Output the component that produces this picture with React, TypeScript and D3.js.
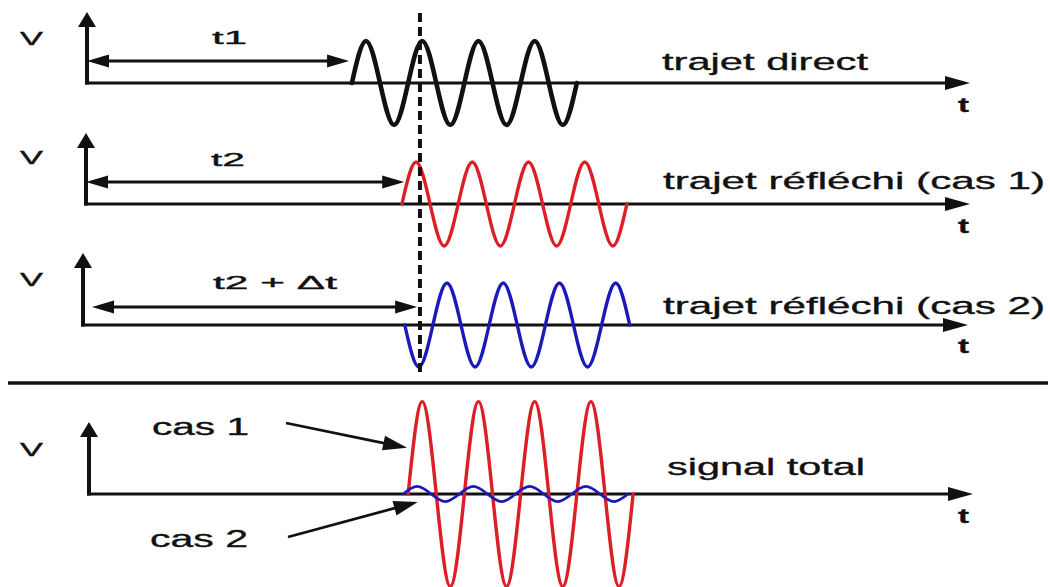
import React from "react";
import * as d3 from "d3";

const W = 1050;
const H = 587;

// Time is measured in carrier periods; one sample every quarter period.
const T_AXIS_END = 15.7;
const QUARTER = 0.25;
const T1 = 4.66;
const T2 = 5.64;
const DELTA_T = 0.23;
const T_MARKER = 5.92;

// Wave levels (in units of the single-path amplitude), one per quarter period.
const directOnset = 4.71;
const directLevels = [0, 1, 0, -1, 0, 1, 0, -1, 0, 1, 0, -1, 0, 1, 0, -1, 0];

const reflected1Onset = 5.6;
const reflected1Levels = [0, 1, 0, -1, 0, 1, 0, -1, 0, 1, 0, -1, 0, 1, 0, -1, 0];

const reflected2Onset = 5.65;
const reflected2Levels = [0, -1, 0, 1, 0, -1, 0, 1, 0, -1, 0, 1, 0, -1, 0, 1, 0];

const total1Onset = 5.71;
const total1Levels = [0, 2.2, 0, -2.2, 0, 2.2, 0, -2.2, 0, 2.2, 0, -2.2, 0, 2.2, 0, -2.2, 0];

const total2Onset = 5.62;
const total2Levels = [0, 0.18, 0, -0.18, 0, 0.18, 0, -0.18, 0, 0.18, 0, -0.18, 0, 0.18, 0, -0.18, 0];

// Annotation arrow targets in the "signal total" panel: [time, level]
const cas1Target: [number, number] = [5.69, 1.1];
const cas2Target: [number, number] = [5.88, -0.19];

const rightLabels = ["trajet direct", "trajet réfléchi (cas 1)", "trajet réfléchi (cas 2)", "signal total"];
const delayLabels = ["t1", "t2", "t2 + \u0394t"];

const FONT = "'Liberation Sans', Arial, Helvetica, sans-serif";
const INK = "#111";
const RED = "#dc1f26";
const BLUE = "#1a1ab8";

const AMP_PX = 42;

const x = d3.scaleLinear().domain([0, T_AXIS_END]).range([87, 970]);

type Panel = { axisX: number; axisY: number; topY: number; vY: number; tY: number; axisEnd: number };
const panels: Panel[] = [
  { axisX: 87, axisY: 83, topY: 12, vY: 45, tY: 112, axisEnd: 970 },
  { axisX: 86, axisY: 204, topY: 133, vY: 164, tY: 233, axisEnd: 970 },
  { axisX: 83, axisY: 325, topY: 253, vY: 286, tY: 353, axisEnd: 968 },
  { axisX: 89, axisY: 494, topY: 422, vY: 456, tY: 523, axisEnd: 973 },
];

const yFor = (p: Panel) =>
  d3.scaleLinear().domain([-1, 1]).range([p.axisY + AMP_PX, p.axisY - AMP_PX]);

function wavePath(p: Panel, onset: number, levels: number[]) {
  const y = yFor(p);
  const pts: [number, number][] = levels.map((v, i) => [onset + i * QUARTER, v]);
  return (
    d3
      .line<[number, number]>()
      .x((d) => x(d[0]))
      .y((d) => y(d[1]))
      .curve(d3.curveNatural)(pts) || ""
  );
}

// Filled triangular arrow head with its tip at (tx, ty), pointing along (dx, dy).
function head(tx: number, ty: number, dx: number, dy: number, len: number, half: number) {
  const n = Math.hypot(dx, dy);
  const ux = dx / n;
  const uy = dy / n;
  const bx = tx - ux * len;
  const by = ty - uy * len;
  const px = -uy * half;
  const py = ux * half;
  return `M${tx},${ty}L${bx + px},${by + py}L${bx - px},${by - py}Z`;
}

function Axes({ p }: { p: Panel }) {
  return (
    <g>
      <line x1={p.axisX} y1={p.axisY + 1.5} x2={p.axisX} y2={p.topY + 12} stroke={INK} strokeWidth={4} />
      <path d={head(p.axisX, p.topY, 0, -1, 15, 9)} fill={INK} />
      <line x1={p.axisX - 2} y1={p.axisY} x2={p.axisEnd - 20} y2={p.axisY} stroke={INK} strokeWidth={2.8} />
      <path d={head(p.axisEnd, p.axisY, 1, 0, 25, 7)} fill={INK} />
    </g>
  );
}

function DoubleArrow({ x1, x2, y }: { x1: number; x2: number; y: number }) {
  return (
    <g>
      <line x1={x1 + 15} y1={y} x2={x2 - 15} y2={y} stroke={INK} strokeWidth={2.8} />
      <path d={head(x1, y, -1, 0, 22, 6.5)} fill={INK} />
      <path d={head(x2, y, 1, 0, 22, 6.5)} fill={INK} />
    </g>
  );
}

function Label({ x0, y0, text, len, size, weight = "normal" }: { x0: number; y0: number; text: string; len: number; size: number; weight?: string }) {
  return (
    <text
      x={x0}
      y={y0}
      fontFamily={FONT}
      fontSize={size}
      fontWeight={weight}
      fill={INK}
      stroke={INK}
      strokeWidth={0.35}
      textLength={len}
      lengthAdjust="spacingAndGlyphs"
    >
      {text}
    </text>
  );
}

export default function App() {
  const [p1, p2, p3, p4] = panels;
  const y4 = yFor(p4);

  return (
    <svg
      width={W}
      height={H}
      viewBox={`0 0 ${W} ${H}`}
      style={{ position: "absolute", left: 0, top: 0, background: "#fff" }}
    >
      <rect width={W} height={H} fill="#fff" />

      {panels.map((p, i) => (
        <g key={i}>
          <Axes p={p} />
          <Label x0={20} y0={p.vY} text="V" len={23} size={18} />
          <Label x0={958} y0={p.tY} text="t" len={11} size={21} weight="bold" />
        </g>
      ))}

      {/* delays */}
      <DoubleArrow x1={x(0)} x2={x(T1)} y={61} />
      <DoubleArrow x1={x(0) - 1} x2={x(T2)} y={182} />
      <DoubleArrow x1={x(0) + 5} x2={x(T2 + DELTA_T)} y={307} />
      <Label x0={212} y0={44} text={delayLabels[0]} len={35} size={19} />
      <Label x0={211} y0={166} text={delayLabels[1]} len={34} size={19} />
      <Label x0={213} y0={289} text={delayLabels[2]} len={124} size={19} />

      {/* waves */}
      <path d={wavePath(p1, directOnset, directLevels)} fill="none" stroke={INK} strokeWidth={4.6} strokeLinejoin="round" strokeLinecap="round" />
      <path d={wavePath(p2, reflected1Onset, reflected1Levels)} fill="none" stroke={RED} strokeWidth={3.4} strokeLinecap="round" />
      <path d={wavePath(p3, reflected2Onset, reflected2Levels)} fill="none" stroke={BLUE} strokeWidth={3.4} strokeLinecap="round" />
      <path d={wavePath(p4, total1Onset, total1Levels)} fill="none" stroke={RED} strokeWidth={3.4} strokeLinecap="round" />
      <path d={wavePath(p4, total2Onset, total2Levels)} fill="none" stroke={BLUE} strokeWidth={2.8} strokeLinecap="round" />

      {/* right-hand captions */}
      <Label x0={662} y0={70} text={rightLabels[0]} len={206} size={24.5} />
      <Label x0={663} y0={189} text={rightLabels[1]} len={382} size={24.5} />
      <Label x0={663} y0={314} text={rightLabels[2]} len={382} size={24.5} />
      <Label x0={667} y0={475} text={rightLabels[3]} len={198} size={24.5} />

      {/* cas 1 / cas 2 pointers */}
      <Label x0={152} y0={435} text="cas 1" len={97} size={23} />
      <Label x0={150} y0={547} text="cas 2" len={98} size={23} />
      {(() => {
        const t1x = x(cas1Target[0]);
        const t1y = y4(cas1Target[1]);
        const t2x = x(cas2Target[0]);
        const t2y = y4(cas2Target[1]);
        const s1: [number, number] = [286, 423];
        const s2: [number, number] = [288, 537];
        const k1 = 20 / Math.hypot(t1x - s1[0], t1y - s1[1]);
        const k2 = 20 / Math.hypot(t2x - s2[0], t2y - s2[1]);
        return (
          <g>
            <line x1={s1[0]} y1={s1[1]} x2={t1x - (t1x - s1[0]) * k1} y2={t1y - (t1y - s1[1]) * k1} stroke={INK} strokeWidth={2.8} />
            <path d={head(t1x, t1y, t1x - s1[0], t1y - s1[1], 24, 7.5)} fill={INK} />
            <line x1={s2[0]} y1={s2[1]} x2={t2x - (t2x - s2[0]) * k2} y2={t2y - (t2y - s2[1]) * k2} stroke={INK} strokeWidth={2.8} />
            <path d={head(t2x, t2y, t2x - s2[0], t2y - s2[1], 24, 7.5)} fill={INK} />
          </g>
        );
      })()}

      {/* separator between the single paths and the total */}
      <line x1={8} y1={383} x2={1048} y2={383} stroke={INK} strokeWidth={3.5} />

      {/* common arrival instant */}
      <line x1={x(T_MARKER)} y1={13} x2={x(T_MARKER)} y2={373} stroke={INK} strokeWidth={4} strokeDasharray="9,5" />
    </svg>
  );
}
